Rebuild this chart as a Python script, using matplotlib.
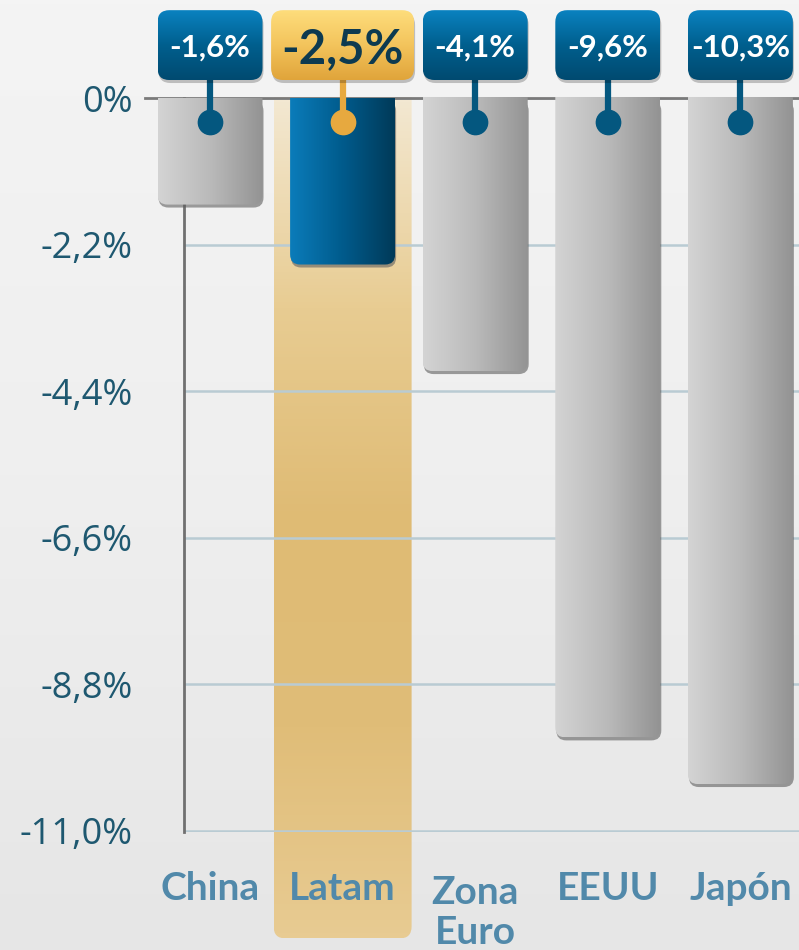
import numpy as np
import matplotlib
matplotlib.use('Agg')
import matplotlib.pyplot as plt
from matplotlib.patches import FancyBboxPatch
from matplotlib.colors import LinearSegmentedColormap

plt.rcParams['font.family'] = ['Lato', 'DejaVu Sans']

# ---------------- data ----------------
categories = ['China', 'Latam', 'Zona\nEuro', 'EEUU', 'Japón']
values = [-1.6, -2.5, -4.1, -9.6, -10.3]
value_labels = ['-1,6%', '-2,5%', '-4,1%', '-9,6%', '-10,3%']
highlight = 'Latam'
yticks = [0, -2.2, -4.4, -6.6, -8.8, -11.0]
ytick_labels = ['0%', '-2,2%', '-4,4%', '-6,6%', '-8,8%', '-11,0%']

# ---------------- layout ----------------
W, H = 799, 950
fig = plt.figure(figsize=(W / 100, H / 100), dpi=100)

bg = fig.add_axes([0, 0, 1, 1], zorder=-10)
bg.imshow(np.linspace(0, 1, 256).reshape(-1, 1),
          cmap=LinearSegmentedColormap.from_list('bg', ['#f4f4f4', '#efefef', '#e6e6e6']),
          aspect='auto', extent=(0, 1, 0, 1), origin='upper')
bg.axis('off')

ax = fig.add_axes([184 / W, 1 - 832 / H, 615 / W, 734 / H])
ax.patch.set_alpha(0)

px_x = 132.6            # pixels per category step
px_y = 734 / 11.0       # pixels per percentage point
aspect = px_x / px_y
xmin = -26 / px_x
xmax = xmin + 615 / px_x
x = np.arange(len(categories))


def rounded(x0, y0, w, h, r_px, **kw):
    r = r_px / px_x
    return FancyBboxPatch((x0, y0), w, h,
                          boxstyle=f'round,pad=0,rounding_size={r}',
                          mutation_aspect=aspect, transform=ax.transData, **kw)


def gradient(x0, y0, w, h, colors, vertical, clip_patch, zorder):
    g = np.linspace(0, 1, 256)
    arr = g.reshape(-1, 1) if vertical else g.reshape(1, -1)
    cmap = LinearSegmentedColormap.from_list('g', colors)
    im = ax.imshow(arr, cmap=cmap, extent=(x0, x0 + w, y0, y0 + h), origin='upper',
                   aspect='auto', interpolation='bilinear', zorder=zorder)
    im.set_clip_path(clip_patch)
    im.set_clip_box(fig.bbox)
    return im


gray_cols = ['#d4d4d4', '#bababa', '#939393']
blue_cols = ['#0b7cba', '#005b8c', '#003a58']
box_blue = ['#0a82c0', '#005f8e', '#004a70']
box_gold = ['#fedd7c', '#f3c45c', '#e0a43a']
stem_blue = '#04577f'
stem_gold = '#e7a93f'
hl_cols = ['#f3e8d2', '#e8cc92', '#dfbb74', '#e0bd78', '#e8cb92']

hi = categories.index(highlight)

# highlight column behind the Latam bar
hl_w = 138 / px_x
hl_bottom = -(940 - 98) / px_y
clip = rounded(x[hi] - hl_w / 2, hl_bottom, hl_w, -hl_bottom + 0.6, 12, fc='none', ec='none')
gradient(x[hi] - hl_w / 2, hl_bottom, hl_w, -hl_bottom, hl_cols, True, clip, 0.1)

# bars
bars = ax.bar(x, values, width=105 / px_x, color='none', edgecolor='none', zorder=3)
for i, b in enumerate(bars):
    x0, w, h = b.get_x(), b.get_width(), b.get_height()
    sh = rounded(x0 + 1 / px_x, h - 3 / px_y, w, -h, 10, fc='#5e5e5e', ec='none',
                 alpha=0.6, zorder=2.9)
    sh.set_clip_on(False)
    ax.add_patch(sh)
    clip = rounded(x0, h, w, -h + 0.6, 10, fc='none', ec='none')
    gradient(x0, h, w, -h, blue_cols if i == hi else gray_cols, False, clip, 3)

# value label boxes with stems
box_bottom = 18 / px_y
box_h = 70 / px_y
circle_y = -24 / px_y
for i in range(len(categories)):
    is_hi = i == hi
    w = (143 if is_hi else 105) / px_x
    x0 = x[i] - w / 2
    sh = rounded(x0 + 1 / px_x, box_bottom - 3 / px_y, w, box_h, 12, fc='#000000', ec='none',
                 alpha=0.22, zorder=4.5)
    sh.set_clip_on(False)
    ax.add_patch(sh)
    clip = rounded(x0, box_bottom, w, box_h, 12, fc='none', ec='none')
    gradient(x0, box_bottom, w, box_h, box_gold if is_hi else box_blue, True, clip, 5)
    sc = stem_gold if is_hi else stem_blue
    ax.plot([x[i], x[i]], [box_bottom, circle_y], color=sc, lw=4.5, clip_on=False,
            zorder=4, solid_capstyle='butt')
    ax.plot([x[i]], [circle_y], 'o', ms=17.5, color=sc, clip_on=False, zorder=4)
    if is_hi:
        ax.text(x[i], box_bottom + box_h / 2, value_labels[i], ha='center',
                va='center_baseline', color='#0d3a50', fontsize=34, fontweight='bold',
                clip_on=False, zorder=6)
    else:
        ax.text(x[i], box_bottom + box_h / 2, value_labels[i], ha='center',
                va='center_baseline', color='white', fontsize=22.5, fontweight='bold',
                clip_on=False, zorder=6)

# zero line
ax.axhline(0, xmin=-39 / 615, xmax=1, color='#7a7a7a', lw=2, clip_on=False, zorder=2.6)

# axes styling
ax.set_yticks(yticks, ytick_labels)
ax.tick_params(axis='y', length=0, pad=37, labelsize=26, labelcolor='#1e5870')
for lbl in ax.get_yticklabels():
    lbl.set_fontfamily(['Open Sans', 'DejaVu Sans'])

ax.set_xticks(x, categories)
ax.tick_params(axis='x', length=0, pad=28, labelsize=28, labelcolor='#5189aa')
for lbl in ax.get_xticklabels():
    lbl.set_fontweight('bold')
    lbl.set_linespacing(1.15)
    if '\n' in lbl.get_text():
        lbl.set_y(-0.006)

ax.yaxis.grid(True, color='#b9cbd3', lw=1.8)
ax.set_axisbelow(True)
for s in ['top', 'right', 'bottom']:
    ax.spines[s].set_visible(False)
ax.spines['left'].set_color('#707070')
ax.spines['left'].set_linewidth(2)

ax.set_xlim(xmin, xmax)
ax.set_ylim(-11.02, 0)

fig.savefig('out.png', dpi=100)
